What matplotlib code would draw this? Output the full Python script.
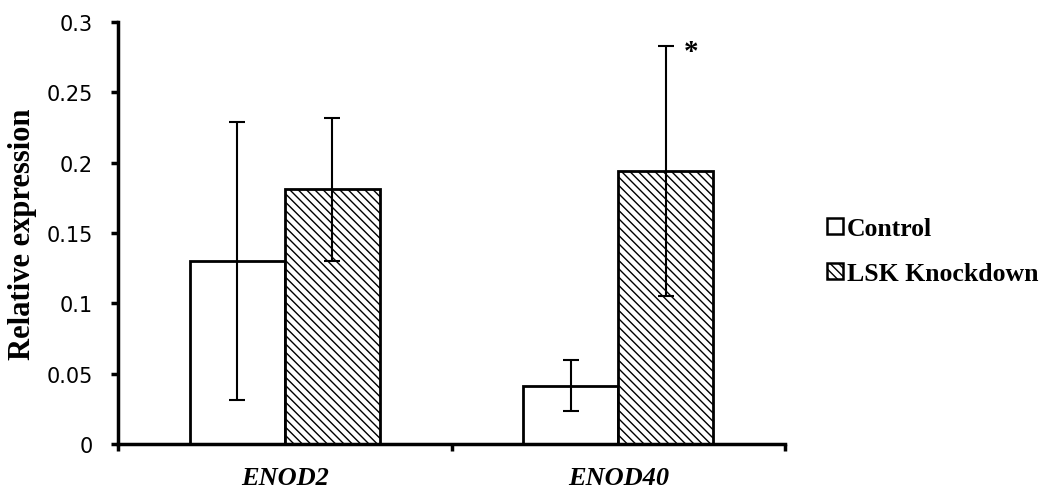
import matplotlib
matplotlib.use("Agg")
import matplotlib.pyplot as plt
from matplotlib.patches import Patch
import numpy as np

genes = ["ENOD2", "ENOD40"]
series = ["Control", "LSK Knockdown"]
control = [0.130, 0.0415]
control_err = [0.099, 0.018]
knockdown = [0.181, 0.194]
knockdown_err = [0.051, 0.089]
yticks = [0, 0.05, 0.1, 0.15, 0.2, 0.25, 0.3]
ytick_labels = ["0", "0.05", "0.1", "0.15", "0.2", "0.25", "0.3"]

plt.rcParams['hatch.linewidth'] = 1.0
fig = plt.figure(figsize=(10.47, 4.89), dpi=100)
ax = fig.add_axes([118/1047, 1-445/489, 667/1047, 422/489])

x = np.arange(len(genes)) + 0.5
w = 0.285

ax.bar(x - w/2, control, width=w, color="white", edgecolor="black",
       linewidth=2, zorder=2, label=series[0])
ax.bar(x + w/2, knockdown, width=w, color="white", edgecolor="black",
       hatch="\\\\\\\\", linewidth=2, zorder=2, label=series[1])
ax.errorbar(x - w/2, control, yerr=control_err, color="black",
            elinewidth=1.5, capsize=6, capthick=1.5, zorder=3, fmt="none")
ax.errorbar(x + w/2, knockdown, yerr=knockdown_err, color="black",
            elinewidth=1.5, capsize=6, capthick=1.5, zorder=3, fmt="none")

# significance star on ENOD40 knockdown
ax.text(x[1] + w/2 + 0.076, knockdown[1] + knockdown_err[1] - 0.004, "*",
        ha="center", va="center", fontsize=21, fontweight="bold",
        family="Liberation Serif")

ax.set_xlim(0, 2)
ax.set_ylim(0, 0.3)
ax.set_yticks(yticks)
ax.set_yticklabels(ytick_labels, fontsize=15, family="DejaVu Sans")
ax.set_xticks([0, 1, 2])
ax.set_xticklabels([])
ax.tick_params(axis="y", direction="out", length=5, width=2.5, pad=13)
ax.tick_params(axis="x", direction="out", length=5, width=2.5)
for i, g in enumerate(genes):
    ax.text(x[i], -0.0235, g, ha="center", va="center", fontsize=19,
            fontweight="bold", fontstyle="italic", family="Liberation Serif",
            clip_on=False)

for s in ["top", "right"]:
    ax.spines[s].set_visible(False)
for s in ["left", "bottom"]:
    ax.spines[s].set_linewidth(2.5)

ax.set_ylabel("Relative expression", fontsize=22, fontweight="bold",
              family="Liberation Serif", labelpad=7)

handles = [Patch(facecolor="white", edgecolor="black", linewidth=1.8),
           Patch(facecolor="white", edgecolor="black", hatch="\\\\\\\\", linewidth=1.8)]
leg = fig.legend(handles, series, loc="center left", bbox_to_anchor=(827/1047, 1-252/489),
                 frameon=False, borderpad=0, borderaxespad=0,
                 handlelength=0.62, handleheight=0.62, handletextpad=0.15,
                 labelspacing=0.85, prop={"family": "Liberation Serif", "weight": "bold", "size": 18.5})

fig.savefig("out.png", dpi=100)
